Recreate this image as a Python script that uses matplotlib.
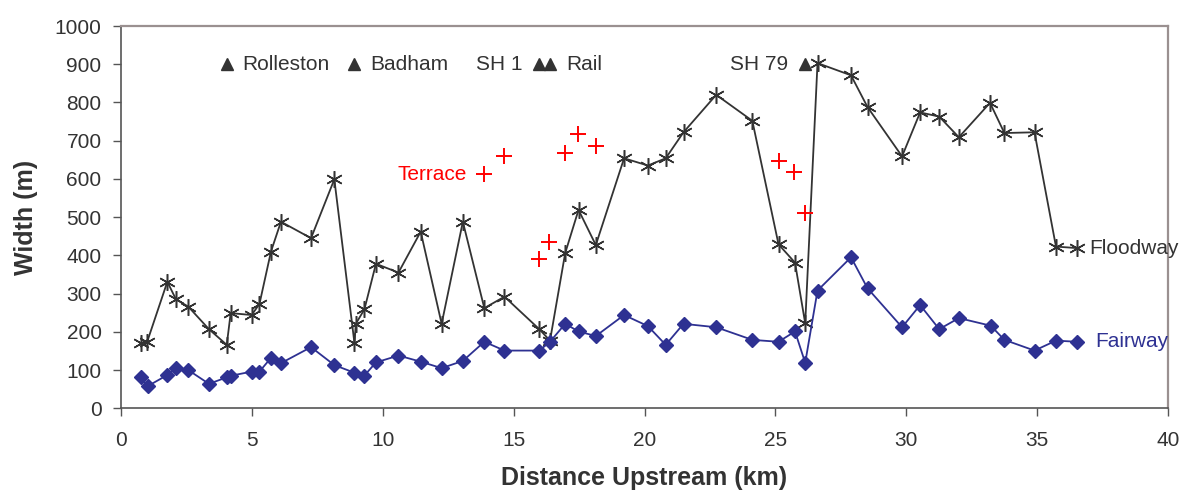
import matplotlib
matplotlib.use("Agg")
import matplotlib.pyplot as plt

plt.rcParams['font.family'] = ['Liberation Sans', 'DejaVu Sans']

# Floodway width (m)
flood_x = [0.75, 1.0, 1.77, 2.1, 2.57, 3.36, 4.04, 4.19, 4.99, 5.29, 5.73, 6.11, 7.26, 8.15,
           8.92, 8.97, 9.3, 9.74, 10.6, 11.45, 12.25, 13.06, 13.88, 14.65, 15.98, 16.39,
           16.97, 17.48, 18.14, 19.22, 20.13, 20.81, 21.49, 22.74, 24.12, 25.12, 25.75,
           26.14, 26.61, 27.89, 28.52, 29.84, 30.53, 31.26, 32.01, 33.2, 33.75, 34.9,
           35.72, 36.54]
flood_y = [170, 174, 331, 285, 266, 207, 166, 249, 244, 273, 410, 488, 445, 599,
           170, 221, 259, 378, 355, 462, 221, 488, 262, 292, 207, 177,
           406, 519, 427, 654, 635, 654, 722, 820, 752, 429, 381,
           222, 903, 871, 788, 659, 774, 763, 709, 799, 720, 722,
           423, 419]

# Fairway width (m)
fair_x = [0.75, 1.02, 1.77, 2.1, 2.57, 3.36, 4.04, 4.19, 4.99, 5.29, 5.73, 6.11, 7.26, 8.15,
          8.92, 9.29, 9.74, 10.6, 11.45, 12.25, 13.06, 13.88, 14.65, 15.98, 16.39,
          16.97, 17.48, 18.14, 19.22, 20.13, 20.81, 21.49, 22.74, 24.12, 25.12, 25.75,
          26.14, 26.61, 27.89, 28.52, 29.84, 30.53, 31.26, 32.01, 33.23, 33.75, 34.9,
          35.72, 36.54]
fair_y = [81, 58, 87, 105, 100, 64, 81, 85, 96, 96, 132, 118, 160, 113,
          93, 85, 120, 138, 122, 105, 124, 174, 151, 151, 174,
          221, 201, 189, 244, 215, 166, 221, 212, 179, 174, 201,
          119, 308, 395, 314, 212, 270, 207, 236, 216, 179, 151,
          177, 174]

# Terrace widths (m)
terr_x = [13.87, 14.64, 15.97, 16.37, 16.97, 17.45, 18.14, 25.12, 25.73, 26.14]
terr_y = [612, 659, 391, 434, 667, 718, 687, 646, 617, 512]

# Bridge / landmark locations
mark_x = [4.04, 8.92, 15.98, 16.39, 26.14]
mark_y = [900, 900, 900, 900, 900]
mark_labels = ["Rolleston", "Badham", "SH 1", "Rail", "SH 79"]
mark_side = ["right", "right", "left", "right", "left"]

xticks = [0, 5, 10, 15, 20, 25, 30, 35, 40]
yticks = [0, 100, 200, 300, 400, 500, 600, 700, 800, 900, 1000]

dark = "#333333"
blue = "#2E3192"
red = "#FF0000"

fig = plt.figure(figsize=(11.9, 4.92), dpi=100)
ax = fig.add_axes([121/1190, 1 - 408.3/492, (1168 - 121)/1190, (408.3 - 26)/492])

ax.plot(flood_x, flood_y, color=dark, lw=1.3, marker=(6, 2, 0), markersize=12,
        markeredgewidth=1.1, markeredgecolor=dark, zorder=3)
ax.plot(fair_x, fair_y, color=blue, lw=1.3, marker='D', markersize=7,
        markerfacecolor=blue, markeredgecolor=blue, zorder=4)
ax.plot(terr_x, terr_y, linestyle='none', marker='+', markersize=11,
        markeredgewidth=1.4, color=red, zorder=5)
ax.plot(mark_x, mark_y, linestyle='none', marker='^', markersize=9,
        color=dark, zorder=5)

fs = 15
for x, y, lab, side in zip(mark_x, mark_y, mark_labels, mark_side):
    if side == "right":
        ax.annotate(lab, (x, y), xytext=(16, 0), textcoords='offset pixels',
                    ha='left', va='center', fontsize=fs, color=dark)
    else:
        ax.annotate(lab, (x, y), xytext=(-17, 0), textcoords='offset pixels',
                    ha='right', va='center', fontsize=fs, color=dark)

ax.annotate("Terrace", (terr_x[0], terr_y[0]), xytext=(-17, 0), textcoords='offset pixels',
            ha='right', va='center', fontsize=fs, color=red)
ax.annotate("Floodway", (flood_x[-1], flood_y[-1]), xytext=(12, 0), textcoords='offset pixels',
            ha='left', va='center', fontsize=fs, color=dark, annotation_clip=False)
ax.annotate("Fairway", (fair_x[-1], fair_y[-1]), xytext=(18, 0), textcoords='offset pixels',
            ha='left', va='center', fontsize=fs, color=blue)

ax.set_xlim(0, 40)
ax.set_ylim(0, 1000)
ax.set_xticks(xticks)
ax.set_yticks(yticks)
ax.tick_params(axis='both', direction='out', length=6, width=1, colors='#555555',
               labelsize=fs, labelcolor=dark)
ax.tick_params(axis='x', pad=10)
ax.tick_params(axis='y', pad=8)

for s in ['left', 'bottom']:
    ax.spines[s].set_color('#555555')
    ax.spines[s].set_linewidth(1.2)
for s in ['top', 'right']:
    ax.spines[s].set_color('#9a9090')
    ax.spines[s].set_linewidth(1.6)

ax.set_xlabel("Distance Upstream (km)", fontsize=18, fontweight='bold', color=dark, labelpad=12)
ax.set_ylabel("Width (m)", fontsize=18, fontweight='bold', color=dark, labelpad=12)

fig.savefig("out.png", dpi=100)
